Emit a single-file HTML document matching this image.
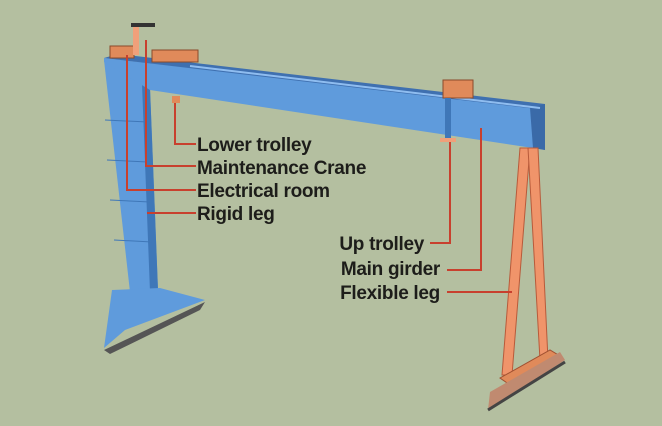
<!DOCTYPE html><html><head><style>body{margin:0;background:#b4bfa0}svg{display:block}text{font-family:"Liberation Sans",sans-serif;font-weight:bold;font-size:19px;fill:#1d1d1a;letter-spacing:-0.3px}</style></head><body>
<svg width="662" height="426" viewBox="0 0 662 426">
<rect width="662" height="426" fill="#b4bfa0"/>
<!-- left leg -->
<polygon points="104,60 150,88 158,290 130,292" fill="#5f9bdc"/>
<polygon points="142,84 150,88 158,290 150,292" fill="#3f77b8"/>
<polygon points="112,290 160,288 205,300 125,330 104,348" fill="#5f9bdc"/>
<polygon points="104,350 205,302 200,310 110,354" fill="#555"/>
<path d="M105,120 L148,122 M107,160 L148,162 M110,200 L150,202 M114,240 L152,242" stroke="#3f77b8" stroke-width="1"/>
<!-- girder -->
<polygon points="104,58 545,108 545,150 533,148 150,90 104,62" fill="#5f9bdc"/>
<polygon points="104,58 118,54 545,104 545,110" fill="#3f70b0"/>
<polygon points="530,108 545,104 545,150 533,148" fill="#3a6aa8"/>
<line x1="190" y1="66" x2="540" y2="108" stroke="#8fbdf0" stroke-width="2"/>
<!-- trolleys -->
<rect x="152" y="50" width="46" height="12" fill="#e08a5a" stroke="#8a4a2a"/>
<rect x="110" y="46" width="24" height="12" fill="#e08a5a" stroke="#8a4a2a"/>
<rect x="133" y="25" width="6" height="30" fill="#f0a07a"/>
<rect x="131" y="23" width="24" height="4" fill="#333"/>
<rect x="443" y="80" width="30" height="18" fill="#e08a5a" stroke="#8a4a2a"/>
<rect x="445" y="98" width="6" height="40" fill="#3f77b8"/>
<rect x="440" y="138" width="16" height="4" fill="#f0a07a"/>
<rect x="172" y="96" width="8" height="7" fill="#e08a5a"/>
<!-- right leg -->
<polygon points="520,148 530,148 512,375 502,375" fill="#f0946a" stroke="#b85a3a"/>
<polygon points="528,148 538,148 548,360 540,360" fill="#f0946a" stroke="#b85a3a"/>
<polygon points="500,378 550,350 560,356 510,385" fill="#e08a5a" stroke="#a05030"/>
<polygon points="490,392 560,352 565,360 488,410" fill="#c08a70"/>
<line x1="488" y1="410" x2="565" y2="362" stroke="#444" stroke-width="3"/>
<!-- leaders -->
<g stroke="#c8402e" stroke-width="2" fill="none">
<path d="M175,103 V144 H196"/><path d="M146,40 V166 H196"/><path d="M127,55 V190 H196"/><path d="M147,213 H196"/>
<path d="M450,142 V243 H430"/><path d="M481,128 V270 H447"/><path d="M447,292 H512"/>
</g>
<text x="197" y="151">Lower trolley</text>
<text x="197" y="174">Maintenance Crane</text>
<text x="197" y="197">Electrical room</text>
<text x="197" y="220">Rigid leg</text>
<text x="424" y="250" text-anchor="end">Up trolley</text>
<text x="440" y="275" text-anchor="end">Main girder</text>
<text x="440" y="299" text-anchor="end">Flexible leg</text>
</svg></body></html>
